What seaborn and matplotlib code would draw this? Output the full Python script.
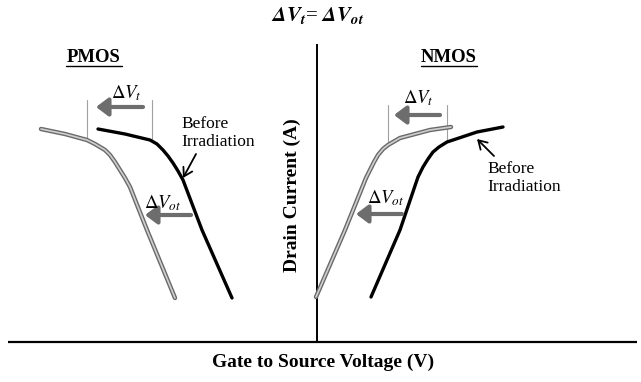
import matplotlib
matplotlib.use("Agg")
import matplotlib.pyplot as plt
import seaborn as sns

sns.set_theme(style="white")
plt.rcParams['font.family'] = ['Liberation Serif', 'DejaVu Serif']
plt.rcParams['mathtext.fontset'] = 'stix'
plt.rcParams['text.color'] = 'black'

# curve points (pixel space: x right, y down)
pmos_before_x = [98, 125, 150, 157, 163, 168, 173, 178, 183, 202, 232]
pmos_before_y = [129, 134, 140, 144, 150, 156, 163, 171, 180, 230, 298]
pmos_after_x = [41, 65, 87, 95, 100, 105, 110, 115, 120, 125, 130, 147, 175]
pmos_after_y = [129, 134, 140, 144, 147, 150, 155, 162, 170, 178, 187, 230, 298]
nmos_before_x = [371, 400, 418, 423, 428, 433, 439, 447, 477, 503]
nmos_before_y = [297, 230, 177, 167, 159, 152, 147, 142, 132, 127]
nmos_after_x = [316, 345, 366, 370, 374, 378, 383, 388, 400, 430, 451]
nmos_after_y = [297, 230, 178, 170, 162, 155, 149, 145, 138, 130, 127]

fig = plt.figure(figsize=(6.41, 3.82), dpi=100)
ax = fig.add_axes([0, 0, 1, 1])
ax.set_xlim(0, 641)
ax.set_ylim(382, 0)
ax.axis('off')

# axes of the sketch
ax.plot([8, 637], [342, 342], color='black', lw=1.6, solid_capstyle='butt')
ax.plot([317, 317], [44, 342], color='black', lw=1.4, solid_capstyle='butt')

# marker lines at the knees
for x, y0, y1 in [(87, 100, 139), (152, 100, 141), (388, 105, 145), (447, 105, 142)]:
    ax.plot([x, x], [y0, y1], color='#a0a0a0', lw=0.8)

# after irradiation (double gray line)
for xs, ys in [(pmos_after_x, pmos_after_y), (nmos_after_x, nmos_after_y)]:
    sns.lineplot(x=xs, y=ys, sort=False, estimator=None, ax=ax,
                 color='#6a6a6a', lw=3.2, solid_capstyle='round', solid_joinstyle='round')
    sns.lineplot(x=xs, y=ys, sort=False, estimator=None, ax=ax,
                 color='#cfcfcf', lw=1.2, solid_capstyle='round', solid_joinstyle='round')

# before irradiation
for xs, ys in [(pmos_before_x, pmos_before_y), (nmos_before_x, nmos_before_y)]:
    sns.lineplot(x=xs, y=ys, sort=False, estimator=None, ax=ax,
                 color='black', lw=2.4, solid_capstyle='round', solid_joinstyle='round')

# shift arrows
gray_arrow = dict(arrowstyle='-|>,head_length=0.6,head_width=0.45', color='#6d6d6d',
                  lw=3, shrinkA=0, shrinkB=0)
for x0, x1, y in [(143, 96, 107), (440, 394, 115), (191, 145, 215), (402, 356, 214)]:
    ax.annotate('', xy=(x1, y), xytext=(x0, y), arrowprops=gray_arrow)

ax.text(126, 93, r'$\mathit{\Delta V_t}$', fontsize=13.5, ha='center', va='center')
ax.text(418, 98, r'$\mathit{\Delta V_t}$', fontsize=13.5, ha='center', va='center')
ax.text(163, 203, r'$\mathit{\Delta V_{ot}}$', fontsize=13.5, ha='center', va='center')
ax.text(386, 198, r'$\mathit{\Delta V_{ot}}$', fontsize=13.5, ha='center', va='center')

# before irradiation labels
thin_arrow = dict(arrowstyle='->,head_length=0.5,head_width=0.3', color='black', lw=1.3,
                  shrinkA=0, shrinkB=0)
ax.annotate('', xy=(183, 178), xytext=(196, 154), arrowprops=thin_arrow)
ax.annotate('', xy=(477, 139), xytext=(494, 156), arrowprops=thin_arrow)
ax.text(181, 133, 'Before\nIrradiation', fontsize=12.5, ha='left', va='center',
        linespacing=1.15)
ax.text(487, 178, 'Before\nIrradiation', fontsize=12.5, ha='left', va='center',
        linespacing=1.15)

# device titles, underlined
for x, label in [(94, 'PMOS'), (449, 'NMOS')]:
    ax.text(x, 57, label, fontsize=13.5, fontweight='bold', ha='center', va='center')
    ax.plot([x - 28, x + 28], [66, 66], color='black', lw=1.0)

# title and axis labels
ax.text(318, 16, r'$\mathbfit{\Delta V_t}$= $\mathbfit{\Delta V_{ot}}$', fontsize=15,
        ha='center', va='center')
ax.text(323, 362, 'Gate to Source Voltage (V)', fontsize=14, fontweight='bold',
        ha='center', va='center')
ax.text(292, 195, 'Drain Current (A)', fontsize=14, fontweight='bold', rotation=90,
        ha='center', va='center')

fig.savefig('out.png', dpi=100)
